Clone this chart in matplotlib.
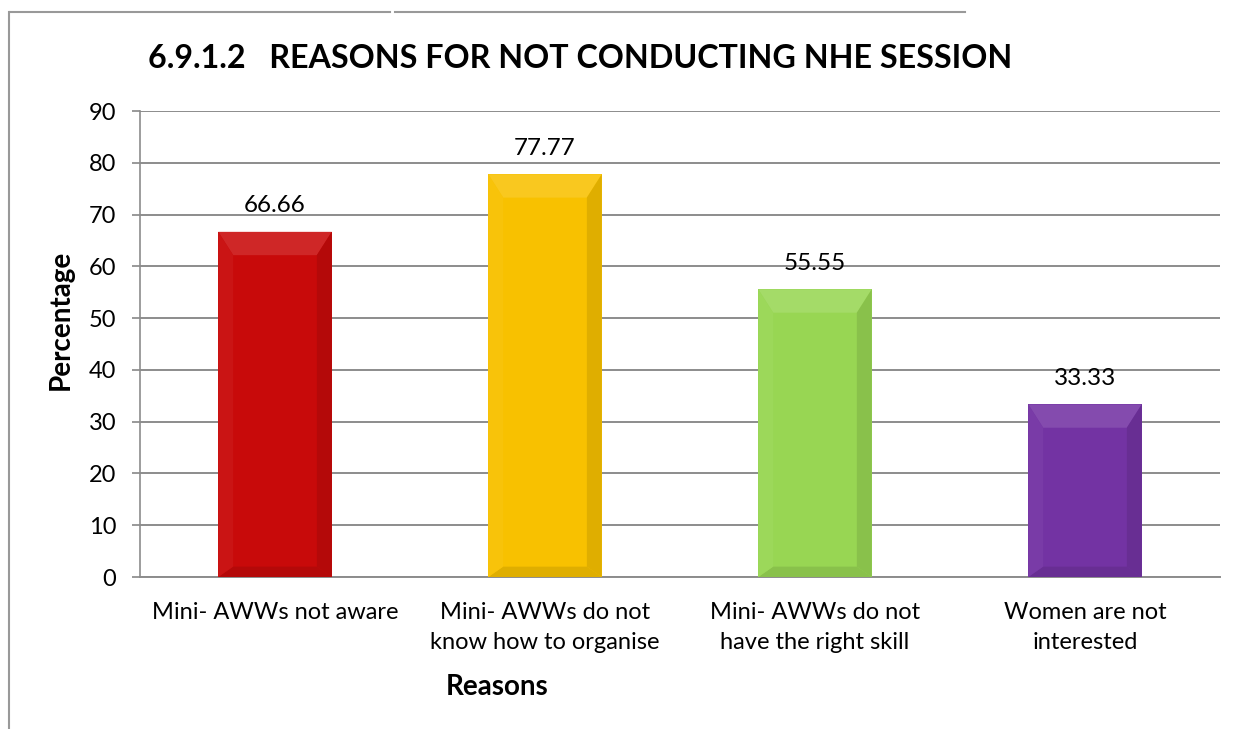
import matplotlib
matplotlib.use("Agg")
import matplotlib.pyplot as plt
from matplotlib.patches import Polygon
from matplotlib.lines import Line2D
import matplotlib.colors as mcolors

categories = ["Mini- AWWs not aware", "Mini- AWWs do not\nknow how to organise",
              "Mini- AWWs do not\nhave the right skill", "Women are not\ninterested"]
values = [66.66, 77.77, 55.55, 33.33]
value_labels = ["66.66", "77.77", "55.55", "33.33"]
colors = ["#C80A0A", "#F8C100", "#98D653", "#7333A3"]
yticks = [0, 10, 20, 30, 40, 50, 60, 70, 80, 90]

plt.rcParams['font.family'] = ['Lato', 'DejaVu Sans']

W, H = 1255, 729
fig = plt.figure(figsize=(W / 100, H / 100), dpi=100)
ax = fig.add_axes([140 / W, 1 - 577 / H, (1220 - 140) / W, (577 - 111) / H])

x = list(range(len(categories)))
bw = 0.42
bars = ax.bar(x, values, width=bw, color=colors, zorder=3, edgecolor='none')


def shade(c, f):
    r, g, b = mcolors.to_rgb(c)
    if f > 1:
        return (r + (1 - r) * (f - 1), g + (1 - g) * (f - 1), b + (1 - b) * (f - 1))
    return (r * f, g * f, b * f)


bx = 0.055
by = 4.5
bb = 2.0
for xi, v, c in zip(x, values, colors):
    l, r = xi - bw / 2, xi + bw / 2
    # top bevel (lighter)
    ax.add_patch(Polygon([(l, v), (r, v), (r - bx, v - by), (l + bx, v - by)],
                         closed=True, color=shade(c, 1.12), zorder=4, lw=0))
    # bottom bevel (darker)
    ax.add_patch(Polygon([(l, 0), (r, 0), (r - bx, bb), (l + bx, bb)],
                         closed=True, color=shade(c, 0.9), zorder=4, lw=0))
    # left bevel
    ax.add_patch(Polygon([(l, 0), (l, v), (l + bx, v - by), (l + bx, bb)],
                         closed=True, color=shade(c, 1.04), zorder=4, lw=0))
    # right bevel
    ax.add_patch(Polygon([(r, 0), (r, v), (r - bx, v - by), (r - bx, bb)],
                         closed=True, color=shade(c, 0.9), zorder=4, lw=0))

for xi, v, t in zip(x, values, value_labels):
    ax.text(xi, v + 3.0, t, ha='center', va='bottom', fontsize=17.5, color='black', zorder=5)

ax.set_xlim(-0.5, len(categories) - 0.5)
ax.set_ylim(0, 90)
ax.set_yticks(yticks)
ax.tick_params(axis='y', labelsize=17, length=6, color='#888888', width=1.2, pad=11)
ax.set_xticks(x)
ax.set_xticklabels(categories, fontsize=17, linespacing=1.55)
ax.tick_params(axis='x', length=0, pad=18)
ax.grid(axis='y', color='#8c8c8c', linewidth=1.4, zorder=0)
ax.set_axisbelow(True)
for s in ['top', 'right']:
    ax.spines[s].set_visible(False)
ax.spines['left'].set_color('#8c8c8c')
ax.spines['bottom'].set_color('#8c8c8c')
ax.spines['left'].set_linewidth(1.2)
ax.spines['bottom'].set_linewidth(1.4)

fig.text(61 / W, 1 - 320 / H, "Percentage", ha='center', va='center', rotation=90,
         fontsize=20, fontweight='bold')
fig.text(497 / W, 1 - 687 / H, "Reasons", ha='center', va='center', fontsize=20, fontweight='bold')
fig.text(580 / W, 1 - 58 / H, "6.9.1.2   REASONS FOR NOT CONDUCTING NHE SESSION",
         ha='center', va='center', fontsize=23.2, fontweight='bold')

# outer frame fragments
fig.add_artist(Line2D([10 / W, 390 / W], [1 - 12 / H, 1 - 12 / H], color='#999999', lw=1.5))
fig.add_artist(Line2D([395 / W, 965 / W], [1 - 12 / H, 1 - 12 / H], color='#999999', lw=1.5))
fig.add_artist(Line2D([9 / W, 9 / W], [1 - 12 / H, 0], color='#999999', lw=1.5))

fig.savefig("out.png", dpi=100)
